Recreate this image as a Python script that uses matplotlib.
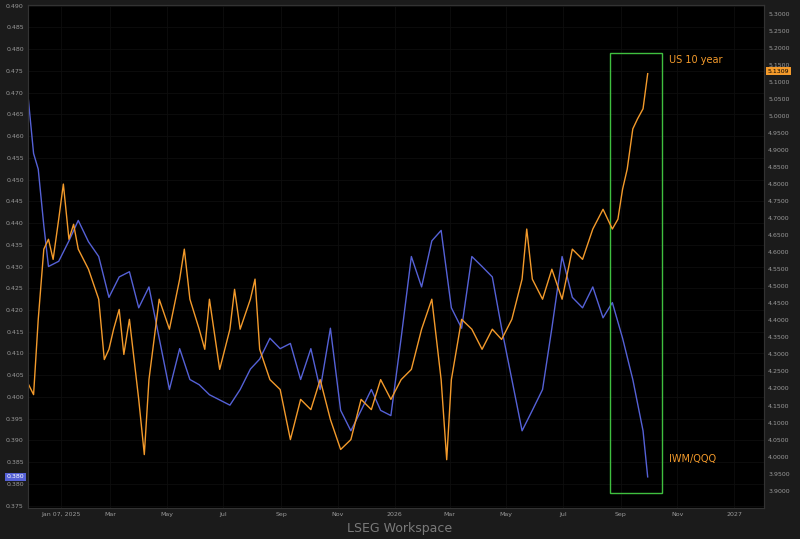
import matplotlib
matplotlib.use("Agg")
import matplotlib.pyplot as plt
import matplotlib.patches as mpatches
import numpy as np
import pandas as pd

base = pd.Timestamp("2025-01-01")
blue_days = [-31,-23,-18,-12,-7,4,15,25,36,47,58,69,80,90,101,112,123,134,145,155,166,177,188,199,210,220,231,242,253,264,275,285,296,307,318,329,340,350,361,372,383,394,405,415,426,437,448,459,470,480,491,502,513,524,534,545,556,567,578,589,599,610,621,632,637]
blue_vals = [.4737,.4560,.4524,.4394,.4300,.4312,.4359,.4406,.4357,.4323,.4229,.4276,.4288,.4205,.4253,.4135,.4017,.4111,.4040,.4028,.4005,.3993,.3981,.4017,.4064,.4087,.4135,.4111,.4123,.4040,.4111,.4017,.4158,.3969,.3922,.3969,.4017,.3969,.3957,.4135,.4323,.4253,.4359,.4383,.4205,.4158,.4323,.4300,.4276,.4158,.4040,.3922,.3969,.4017,.4158,.4323,.4229,.4205,.4253,.4182,.4217,.4135,.4040,.3922,.3816]
orange_days = [-31,-23,-18,-12,-7,-2,4,9,15,20,25,36,47,53,58,63,69,74,80,90,96,101,112,123,134,139,145,155,161,166,177,188,193,199,210,215,220,231,242,253,264,275,285,296,307,318,329,340,350,361,372,383,394,405,415,421,426,437,448,459,470,480,491,502,507,513,524,534,545,556,567,578,589,599,605,610,615,621,626,632,637]
orange_vals = [4.226,4.182,4.403,4.609,4.638,4.579,4.697,4.800,4.638,4.682,4.609,4.550,4.462,4.285,4.315,4.374,4.432,4.300,4.403,4.168,4.006,4.226,4.462,4.374,4.521,4.609,4.462,4.374,4.315,4.462,4.256,4.374,4.491,4.374,4.462,4.521,4.315,4.226,4.197,4.050,4.168,4.138,4.226,4.109,4.021,4.050,4.168,4.138,4.226,4.168,4.226,4.256,4.374,4.462,4.226,3.991,4.226,4.403,4.374,4.315,4.374,4.344,4.403,4.521,4.668,4.521,4.462,4.550,4.462,4.609,4.579,4.668,4.726,4.668,4.697,4.785,4.844,4.962,4.991,5.021,5.124]

bd = [base + pd.Timedelta(days=d) for d in blue_days]
od = [base + pd.Timedelta(days=d) for d in orange_days]
BLUE = "#5561d6"; ORANGE = "#f39a2b"; TXT = "#9a9a9a"

fig = plt.figure(figsize=(8, 5.39), dpi=100, facecolor="#1b1b1b")
ax = fig.add_axes([0.035, 0.058, 0.92, 0.933], facecolor="black")
ax2 = ax.twinx()
ax.plot(bd, blue_vals, color=BLUE, lw=1)
ax2.plot(od, orange_vals, color=ORANGE, lw=1)
ax.set_xlim(pd.Timestamp("2024-12-03"), pd.Timestamp("2027-02-02"))
ax.set_ylim(0.3745, 0.4902)
ax2.set_ylim(3.85, 5.326)
ax.set_yticks(np.arange(0.375, 0.4901, 0.005))
ax.yaxis.set_major_formatter(plt.FuncFormatter(lambda v, p: f"{v:.3f}"))
ax2.set_yticks(np.arange(3.9, 5.301, 0.05))
ax2.yaxis.set_major_formatter(plt.FuncFormatter(lambda v, p: f"{v:.4f}"))
ticks = [pd.Timestamp(s) for s in ["2025-01-07","2025-03-01","2025-05-01","2025-07-01","2025-09-01","2025-11-01","2026-01-01","2026-03-01","2026-05-01","2026-07-01","2026-09-01","2026-11-01","2027-01-01"]]
labels = ["Jan 07, 2025","Mar","May","Jul","Sep","Nov","2026","Mar","May","Jul","Sep","Nov","2027"]
ax.set_xticks(ticks); ax.set_xticklabels(labels)
for a in (ax, ax2):
    a.tick_params(colors=TXT, labelsize=4.5, length=0, pad=3)
    for s in a.spines.values():
        s.set_color("#333333")
ax.grid(True, color="#0e0e0e", lw=0.6)
ax.add_patch(mpatches.Rectangle((base + pd.Timedelta(days=596), 0.3778), pd.Timedelta(days=56), 0.1013,
                                fill=False, ec="#3fbf3f", lw=1, zorder=5))
ax.text(base + pd.Timedelta(days=660), 0.4776, "US 10 year", color=ORANGE, fontsize=7, va="center")
ax.text(base + pd.Timedelta(days=660), 0.3857, "IWM/QQQ", color=ORANGE, fontsize=7, va="center")
ax.text(-0.005, 0.3816, "0.380", transform=ax.get_yaxis_transform(), ha="right", va="center", fontsize=4.5,
        color="white", bbox=dict(fc=BLUE, ec="none", pad=1))
ax2.text(1.005, 5.1309, "5.1309", transform=ax2.get_yaxis_transform(), ha="left", va="center", fontsize=4.5,
         color="black", bbox=dict(fc=ORANGE, ec="none", pad=1))
fig.text(0.5, 0.02, "LSEG Workspace", color="#7a7a7a", fontsize=9, ha="center", va="center")
fig.savefig("out.png", dpi=100, facecolor=fig.get_facecolor())
